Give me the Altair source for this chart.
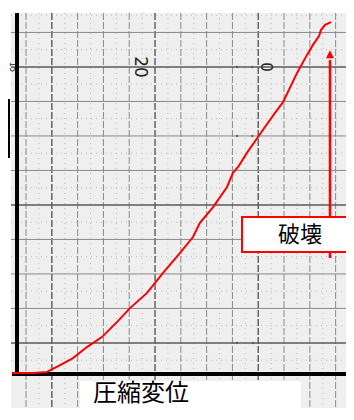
import altair as alt
import pandas as pd

# ---- data (grid units: x = displacement, y = load) ----
disp = [-0.19, 0.62, 1.16, 1.67, 2.17, 2.71, 3.29, 3.88, 4.38, 5.04, 5.66, 6.32,
        6.82, 7.09, 7.60, 8.14, 8.37, 8.57, 8.91, 9.34, 9.61, 10.00, 10.31, 10.85,
        11.24, 11.47, 11.71, 11.78, 11.94, 12.17]
load = [0.03, 0.03, 0.06, 0.26, 0.46, 0.78, 1.07, 1.51, 1.91, 2.35, 2.93, 3.51,
        3.97, 4.38, 4.84, 5.42, 5.83, 6.00, 6.41, 6.87, 7.16, 7.57, 7.88, 8.72,
        9.25, 9.54, 9.80, 9.97, 10.12, 10.20]

grid_x = [0.35 + i for i in range(13)]
grid_y = [0.90 + k for k in range(10)]
major_x = [1.35, 5.35, 9.35]
major_y = [0.90, 4.90, 8.90]

paper_labels = pd.DataFrame({"x": [4.77, 9.65, -0.2], "y": [8.90, 8.90, 8.90],
                             "t": ["20", "0", "15"], "s": [17, 15, 8]})
failure_x = 12.13          # displacement at failure (arrow)
failure_label = "破壊"
x_label = "圧縮変位"

W, H = 338, 400
xs = alt.Scale(domain=[-0.3488, 12.752], nice=False, zero=False, padding=0)
ys = alt.Scale(domain=[-0.9855, 10.6087], nice=False, zero=False, padding=0)
X = lambda f="x": alt.X(f"{f}:Q", scale=xs, axis=None)
Y = lambda f="y": alt.Y(f"{f}:Q", scale=ys, axis=None)

one = pd.DataFrame({"a": [0]})

paper = alt.Chart(one).mark_rect(color="#efefef").encode(
    x=alt.value(3), x2=alt.value(W), y=alt.value(5), y2=alt.value(H))

minor_v = alt.Chart(pd.DataFrame({"x": [g + 0.5 for g in grid_x[:-1]]})).mark_rule(
    color="#b8b8b8", strokeWidth=1, strokeDash=[1, 4]).encode(x=X(), y=alt.value(5), y2=alt.value(H))
minor_h = alt.Chart(pd.DataFrame({"y": [g + 0.5 for g in grid_y] + [grid_y[0] - 0.5]})).mark_rule(
    color="#b8b8b8", strokeWidth=1, strokeDash=[1, 4]).encode(y=Y(), x=alt.value(3), x2=alt.value(W))

vdf = pd.DataFrame({"x": grid_x, "major": [g in major_x for g in grid_x]})
hdf = pd.DataFrame({"y": grid_y, "major": [g in major_y for g in grid_y]})
grid_v = alt.Chart(vdf).mark_rule(strokeDash=[7, 2]).encode(
    x=X(), y=alt.value(5), y2=alt.value(H),
    color=alt.Color("major:N", scale=alt.Scale(domain=[False, True], range=["#8a8a8a", "#5a5a5a"]), legend=None),
    strokeWidth=alt.StrokeWidth("major:N", scale=alt.Scale(domain=[False, True], range=[1, 1.4]), legend=None))
grid_h = alt.Chart(hdf).mark_rule().encode(
    y=Y(), x=alt.value(3), x2=alt.value(W),
    color=alt.Color("major:N", scale=alt.Scale(domain=[False, True], range=["#7a7a7a", "#4a4a4a"]), legend=None),
    strokeWidth=alt.StrokeWidth("major:N", scale=alt.Scale(domain=[False, True], range=[1.1, 1.6]), legend=None))

labels = alt.Chart(paper_labels).mark_text(angle=90, font="DejaVu Sans", color="#222222",
                                           align="center", baseline="middle").encode(
    x=X(), y=Y(), text="t:N", size=alt.Size("s:Q", scale=None, legend=None))

specks = alt.Chart(pd.DataFrame({"x": [8.53, 9.12, 8.53, 9.12, 8.53, 9.15],
                                 "y": [8.90, 8.90, 6.90, 6.90, 0.90, 0.90]})).mark_point(
    filled=True, color="#555555", size=6, opacity=0.8).encode(x=X(), y=Y())

y_axis = alt.Chart(one).mark_rule(color="black", strokeWidth=4).encode(
    x=alt.value(9), y=alt.value(5), y2=alt.value(368))
x_axis = alt.Chart(one).mark_rule(color="black", strokeWidth=4).encode(
    y=alt.value(366), x=alt.value(4), x2=alt.value(W))

curve = alt.Chart(pd.DataFrame({"x": disp, "y": load})).mark_line(
    color="#ff0000", strokeWidth=2).encode(x=X(), y=Y())

arrow = alt.Chart(pd.DataFrame({"x": [failure_x], "y": [9.10], "y2": [3.36]})).mark_rule(
    color="#ff0000", strokeWidth=2.5).encode(x=X(), y=Y(), y2="y2:Q")
head = alt.Chart(pd.DataFrame({"x": [failure_x], "y": [9.27]})).mark_point(
    shape="M-1,1L1,1L0,-1Z", filled=True, color="#ff0000", opacity=1, size=64).encode(x=X(), y=Y())

box = alt.Chart(pd.DataFrame({"x": [8.72], "y": [3.536], "y2": [4.551]})).mark_rect(
    fill="white", stroke="#ff0000", strokeWidth=2).encode(x=X(), x2=alt.value(W + 10), y=Y(), y2="y2:Q")
box_text = alt.Chart(pd.DataFrame({"x": [10.97], "y": [4.02], "t": [failure_label]})).mark_text(
    font="Noto Sans CJK JP", fontSize=22, color="black", align="center", baseline="middle").encode(
    x=X(), y=Y(), text="t:N")

left_box = alt.Chart(one).mark_rect(fill=None, stroke="black", strokeWidth=2).encode(
    x=alt.value(-10), x2=alt.value(1), y=alt.value(92), y2=alt.value(149))

label_bg = alt.Chart(one).mark_rect(color="white").encode(
    x=alt.value(72), x2=alt.value(293), y=alt.value(373), y2=alt.value(H + 5))
label_text = alt.Chart(pd.DataFrame({"t": [x_label]})).mark_text(
    font="Noto Sans CJK JP", fontSize=24, color="black", align="left", baseline="top").encode(
    x=alt.value(85), y=alt.value(374), text="t:N")

chart = alt.layer(
    paper, minor_v, minor_h, grid_v, grid_h, labels, specks, y_axis, x_axis, curve,
    arrow, head, box, box_text, left_box, label_bg, label_text
).properties(width=W, height=H, padding=0, autosize="none").configure_view(stroke=None)

chart.save("out.html", embed_options={"renderer": "svg", "actions": False})
